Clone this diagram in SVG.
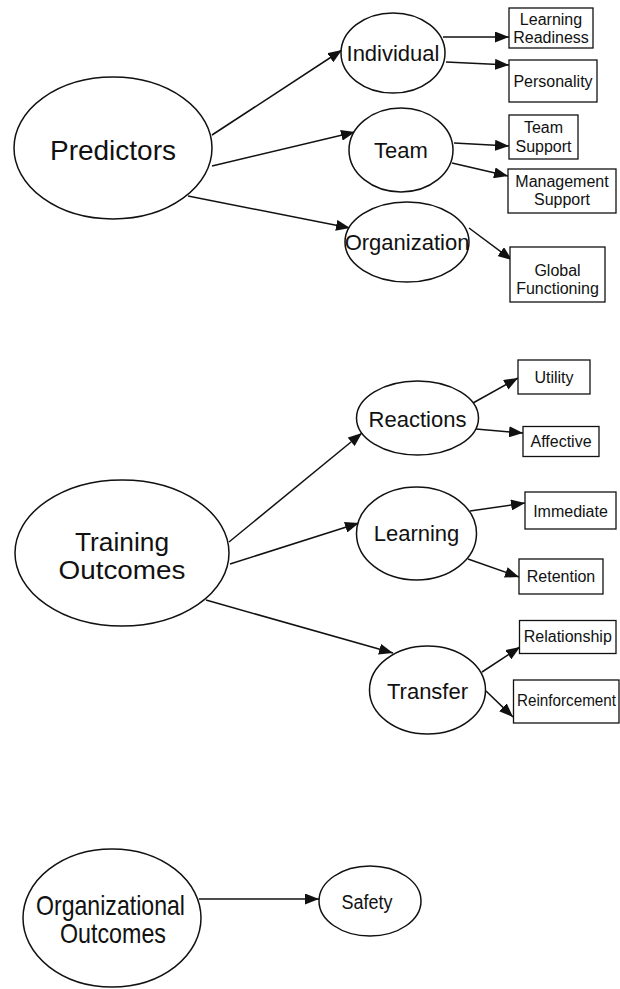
<svg xmlns="http://www.w3.org/2000/svg" width="620" height="989" viewBox="0 0 620 989">
  <style>
    .oval { fill: #fff; stroke: #111; stroke-width: 1.5; }
    .box { fill: #fff; stroke: #111; stroke-width: 1.3; }
    .edge { stroke: #111; stroke-width: 1.5; fill: none; marker-end: url(#arrow); }
    text { font-family: "Liberation Sans", Arial, Helvetica, sans-serif; fill: #111; text-anchor: middle; }
    .big { font-size: 28px; }
    .mid { font-size: 22px; }
    .small { font-size: 16px; }
  </style>
  <defs>
    <marker id="arrow" markerUnits="userSpaceOnUse" markerWidth="14" markerHeight="11" refX="14" refY="5.5" orient="auto">
      <path d="M0,0 L14,5.5 L0,11 z" fill="#111"/>
    </marker>
  </defs>
  <rect width="620" height="989" fill="#fff"/>

  <!-- connectors -->
  <g id="connectors">
    <line class="edge" x1="212" y1="135" x2="342" y2="50"/>
    <line class="edge" x1="212" y1="166" x2="355" y2="132"/>
    <line class="edge" x1="188" y1="196" x2="350" y2="228"/>
    <line class="edge" x1="443" y1="37" x2="509" y2="37"/>
    <line class="edge" x1="446" y1="62" x2="509" y2="65"/>
    <line class="edge" x1="454" y1="143" x2="509" y2="146"/>
    <line class="edge" x1="452" y1="163" x2="508" y2="176"/>
    <line class="edge" x1="469" y1="228" x2="512" y2="260"/>
    <line class="edge" x1="229" y1="542" x2="362" y2="433"/>
    <line class="edge" x1="230" y1="564" x2="359" y2="523"/>
    <line class="edge" x1="206" y1="600" x2="393" y2="653"/>
    <line class="edge" x1="473" y1="403" x2="518" y2="378"/>
    <line class="edge" x1="476" y1="429" x2="523" y2="433"/>
    <line class="edge" x1="470" y1="511" x2="525" y2="503"/>
    <line class="edge" x1="468" y1="559" x2="519" y2="577"/>
    <line class="edge" x1="482" y1="672" x2="520" y2="647"/>
    <line class="edge" x1="486" y1="691" x2="513" y2="717"/>
    <line class="edge" x1="199" y1="899" x2="319" y2="899"/>
  </g>

  <!-- predictors branch -->
  <g id="predictors">
    <ellipse class="oval" cx="113" cy="148" rx="99" ry="71"/>
    <text class="big" x="113" y="160">Predictors</text>
  </g>
  <g id="individual">
    <ellipse class="oval" cx="393" cy="53" rx="52" ry="40"/>
    <text class="mid" x="393" y="61">Individual</text>
  </g>
  <g id="team">
    <ellipse class="oval" cx="401" cy="150" rx="52" ry="42"/>
    <text class="mid" x="401" y="158">Team</text>
  </g>
  <g id="organization">
    <ellipse class="oval" cx="407" cy="242" rx="62" ry="40"/>
    <text class="mid" x="407" y="250">Organization</text>
  </g>
  <g id="learning-readiness">
    <rect class="box" x="509" y="8" width="84" height="40"/>
    <text class="small" x="551" y="25">Learning</text>
    <text class="small" x="551" y="42.5">Readiness</text>
  </g>
  <g id="personality">
    <rect class="box" x="509" y="60" width="88" height="42"/>
    <text class="small" x="553" y="87">Personality</text>
  </g>
  <g id="team-support">
    <rect class="box" x="509" y="115" width="69" height="44"/>
    <text class="small" x="543.5" y="133">Team</text>
    <text class="small" x="543.5" y="151.5">Support</text>
  </g>
  <g id="management-support">
    <rect class="box" x="508" y="169" width="108" height="44"/>
    <text class="small" x="562" y="186.5">Management</text>
    <text class="small" x="562" y="205">Support</text>
  </g>
  <g id="global-functioning">
    <rect class="box" x="510" y="247" width="95" height="55"/>
    <text class="small" x="557.5" y="276">Global</text>
    <text class="small" x="557.5" y="293.5">Functioning</text>
  </g>

  <!-- training outcomes branch -->
  <g id="training-outcomes">
    <ellipse class="oval" cx="122" cy="553" rx="107" ry="73"/>
    <text x="122" y="551" style="font-size:26px" textLength="94" lengthAdjust="spacingAndGlyphs">Training</text>
    <text x="122" y="579" style="font-size:26px" textLength="127" lengthAdjust="spacingAndGlyphs">Outcomes</text>
  </g>
  <g id="reactions">
    <ellipse class="oval" cx="417.5" cy="418" rx="61" ry="37"/>
    <text class="mid" x="417.5" y="426.5">Reactions</text>
  </g>
  <g id="learning">
    <ellipse class="oval" cx="416.5" cy="533.5" rx="60" ry="46.5"/>
    <text class="mid" x="416.5" y="540.5">Learning</text>
  </g>
  <g id="transfer">
    <ellipse class="oval" cx="427.5" cy="690" rx="58" ry="44"/>
    <text class="mid" x="427.5" y="699">Transfer</text>
  </g>
  <g id="utility">
    <rect class="box" x="518" y="360" width="72" height="34"/>
    <text class="small" x="554" y="383">Utility</text>
  </g>
  <g id="affective">
    <rect class="box" x="523" y="426.5" width="76" height="30"/>
    <text class="small" x="561" y="446.5">Affective</text>
  </g>
  <g id="immediate">
    <rect class="box" x="525" y="492" width="91" height="37"/>
    <text class="small" x="570.5" y="516.5">Immediate</text>
  </g>
  <g id="retention">
    <rect class="box" x="519" y="559" width="84" height="35"/>
    <text class="small" x="561" y="581.5">Retention</text>
  </g>
  <g id="relationship">
    <rect class="box" x="519.5" y="620.5" width="96.5" height="33"/>
    <text class="small" x="567.75" y="641.5">Relationship</text>
  </g>
  <g id="reinforcement">
    <rect class="box" x="513.5" y="680" width="105.5" height="43"/>
    <text class="small" x="517" y="706" style="text-anchor:start" textLength="99" lengthAdjust="spacingAndGlyphs">Reinforcement</text>
  </g>

  <!-- organizational outcomes branch -->
  <g id="organizational-outcomes">
    <ellipse class="oval" cx="112" cy="918" rx="89" ry="69"/>
    <text class="big" x="110.5" y="915" textLength="149" lengthAdjust="spacingAndGlyphs">Organizational</text>
    <text class="big" x="113" y="943" textLength="106" lengthAdjust="spacingAndGlyphs">Outcomes</text>
  </g>
  <g id="safety">
    <ellipse class="oval" cx="370" cy="901" rx="51" ry="35"/>
    <text x="367" y="909" style="font-size:20px" textLength="51" lengthAdjust="spacingAndGlyphs">Safety</text>
  </g>
</svg>
